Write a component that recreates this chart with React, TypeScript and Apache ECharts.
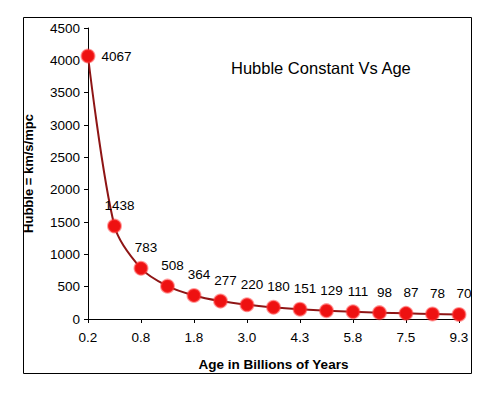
import React, { useEffect, useRef } from "react";
import * as echarts from "echarts";

const categories = ["0.2", "0.5", "0.8", "1.3", "1.8", "2.4", "3.0", "3.6", "4.3", "5.0", "5.8", "6.6", "7.5", "8.4", "9.3"];
const hubbleValues = [4067, 1438, 783, 508, 364, 277, 220, 180, 151, 129, 111, 98, 87, 78, 70];
const titleText = "Hubble Constant Vs Age";
const xName = "Age in Billions of Years";
const yName = "Hubble = km/s/mpc";

const FONT = "Arial, 'Liberation Sans', sans-serif";

export default function App() {
  const ref = useRef<HTMLDivElement>(null);
  useEffect(() => {
    if (!ref.current) return;
    const chart = echarts.init(ref.current, null, { renderer: "svg" });
    const data = hubbleValues.map((v, i) =>
      i === 0
        ? { value: v, label: { position: "right", offset: [0, 0] } }
        : { value: v }
    );
    chart.setOption({
      animation: false,
      backgroundColor: "#ffffff",
      title: {
        text: titleText,
        left: 226,
        top: 54,
        textStyle: { fontFamily: FONT, fontSize: 16.5, fontWeight: "normal", color: "#000" },
      },
      graphic: [
        {
          type: "rect",
          shape: { x: 23.5, y: 17.5, width: 448, height: 356 },
          style: { fill: "none", stroke: "#000", lineWidth: 1 },
          z: -1,
        },
      ],
      grid: { left: 88, right: 25, top: 28, bottom: 76 },
      xAxis: {
        type: "category",
        data: categories,
        boundaryGap: false,
        name: xName,
        nameLocation: "middle",
        nameGap: 38,
        nameTextStyle: { fontFamily: FONT, fontSize: 13.5, fontWeight: "bold", color: "#000" },
        axisLine: { lineStyle: { color: "#000", width: 1 } },
        axisTick: { show: true, interval: 1, length: 4, lineStyle: { color: "#000" } },
        axisLabel: { interval: 1, fontFamily: FONT, fontSize: 13.5, color: "#000", margin: 11 },
        splitLine: { show: false },
      },
      yAxis: {
        type: "value",
        min: 0,
        max: 4500,
        interval: 500,
        name: yName,
        nameLocation: "middle",
        nameGap: 53,
        nameTextStyle: { fontFamily: FONT, fontSize: 13, fontWeight: "bold", color: "#000" },
        axisLine: { show: true, lineStyle: { color: "#000", width: 1 } },
        axisTick: { show: true, length: 4, lineStyle: { color: "#000" } },
        axisLabel: {
          fontFamily: FONT,
          fontSize: 13.5,
          color: "#000",
          margin: 8,
          formatter: (v: number) => String(v),
        },
        splitLine: { show: false },
      },
      series: [
        {
          type: "line",
          data,
          smooth: 0.3,
          symbol: "circle",
          symbolSize: 13,
          lineStyle: { color: "#8e1515", width: 2 },
          itemStyle: { color: "#ee1111", borderColor: "rgba(255,60,60,0.5)", borderWidth: 2 },
          label: {
            show: true,
            position: "top",
            distance: 6,
            offset: [5, 0],
            fontFamily: FONT,
            fontSize: 13.5,
            color: "#000",
          },
        },
      ],
    });
    return () => chart.dispose();
  }, []);
  return (
    <div
      ref={ref}
      style={{ position: "fixed", left: 0, top: 0, width: 484, height: 395 }}
    />
  );
}
